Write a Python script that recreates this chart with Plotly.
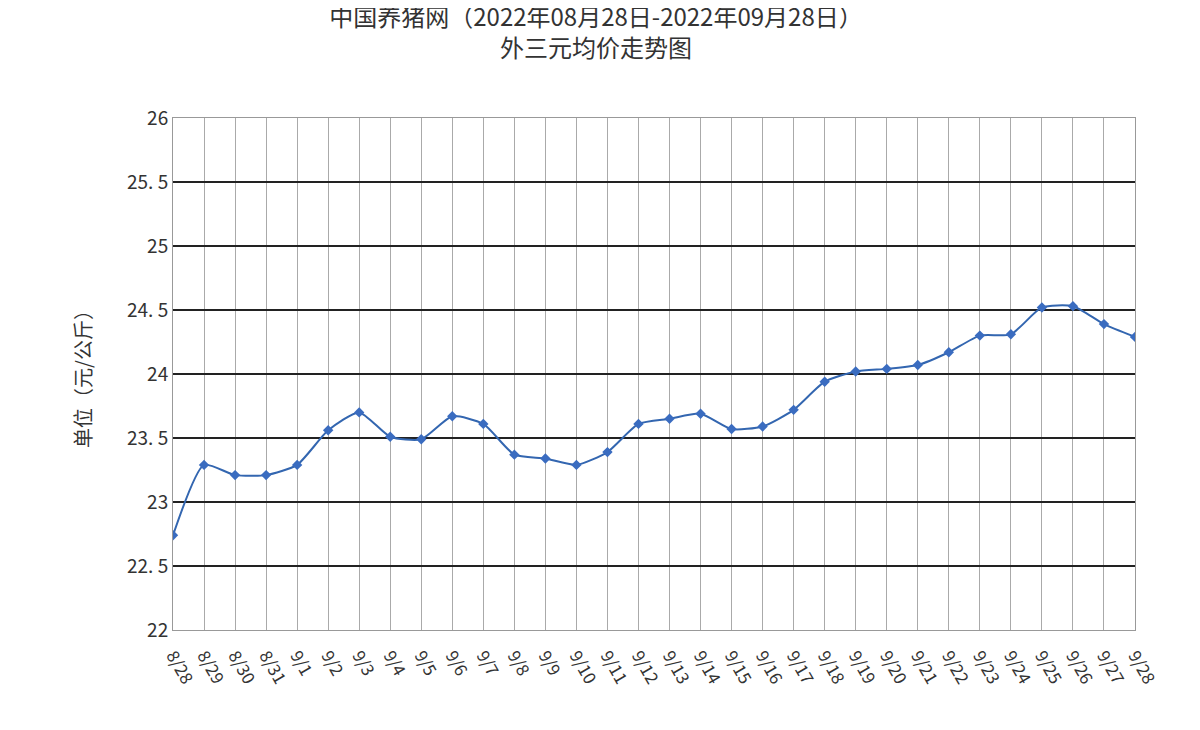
import plotly.graph_objects as go

dates = ["8/28","8/29","8/30","8/31","9/1","9/2","9/3","9/4","9/5","9/6","9/7","9/8","9/9","9/10","9/11","9/12",
         "9/13","9/14","9/15","9/16","9/17","9/18","9/19","9/20","9/21","9/22","9/23","9/24","9/25","9/26","9/27","9/28"]
prices = [22.74,23.29,23.21,23.21,23.29,23.56,23.70,23.51,23.49,23.67,23.61,23.37,23.34,23.29,23.39,23.61,
          23.65,23.69,23.57,23.59,23.72,23.94,24.02,24.04,24.07,24.17,24.30,24.31,24.52,24.53,24.39,24.29]

fig = go.Figure(go.Scatter(
    x=list(range(len(dates))), y=prices, mode="lines+markers",
    line=dict(color="#3366B0", width=2, shape="spline", smoothing=0.6),
    marker=dict(symbol="diamond", size=8, color="#3A6CC0"),
))
fig.update_layout(
    width=1200, height=730, paper_bgcolor="white", plot_bgcolor="white",
    margin=dict(l=165, r=73, t=110, b=108),
    showlegend=False,
    title=dict(text="中国养猪网（2022年08月28日-2022年09月28日）<br>外三元均价走势图",
               x=0.49, xanchor="center", y=0.975, yanchor="top",
               font=dict(family="Noto Sans CJK SC", size=24, color="#333")),
    font=dict(family="Noto Sans CJK SC", color="#333"),
)
fig.update_xaxes(range=[0, len(dates)-1], tickmode="array", tickvals=list(range(len(dates))),
                 ticktext=dates, tickangle=60, showgrid=True, gridcolor="#aaaaaa", gridwidth=1,
                 showline=True, linecolor="#999", mirror=True, tickfont=dict(size=17, color="#333"),
                 ticks="", ticklabelstandoff=8)
fig.update_yaxes(range=[22, 26], dtick=0.5, tickvals=[22,22.5,23,23.5,24,24.5,25,25.5,26],
                 ticktext=["22","22. 5","23","23. 5","24","24. 5","25","25. 5","26"],
                 showgrid=True, gridcolor="#222", gridwidth=1.5, showline=True, linecolor="#999",
                 mirror=True, zeroline=False, tickfont=dict(size=19, color="#333"),
                 title=dict(text="单位（元/公斤）", font=dict(size=20, color="#333"), standoff=30))
fig.add_shape(type="rect", xref="paper", yref="paper", x0=-0.165, x1=1.07, y0=-0.2, y1=1.2,
              line=dict(color="#ccc", width=1)) if False else None
fig.write_html("out.html")
